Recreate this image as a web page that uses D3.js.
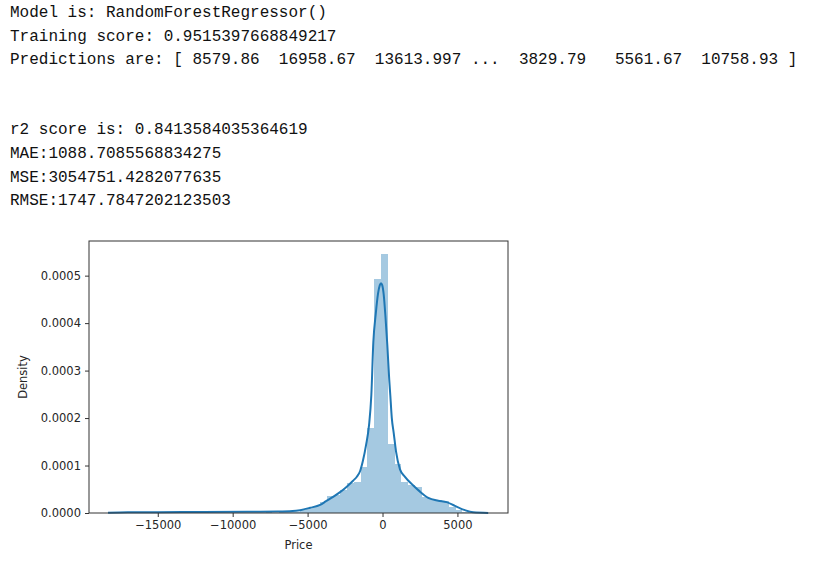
<!DOCTYPE html>
<html>
<head>
<meta charset="utf-8">
<script src="https://cdn.jsdelivr.net/npm/d3@7"></script>
<style>
  html, body { margin: 0; padding: 0; background: #fff; }
  svg { display: block; }
</style>
</head>
<body>
<svg id="chart" width="813" height="563"></svg>
<script>
// ---- Output text lines ----
const outputLines = [
  "Model is: RandomForestRegressor()",
  "Training score: 0.9515397668849217",
  "Predictions are: [ 8579.86  16958.67  13613.997 ...  3829.79   5561.67  10758.93 ]",
  "r2 score is: 0.8413584035364619",
  "MAE:1088.7085568834275",
  "MSE:3054751.4282077635",
  "RMSE:1747.7847202123503"
];

// ---- Histogram (density) ----
const binStart = -16861;
const binWidth = 453;
const binDensity = [
  0.000001, 0, 0, 0, 0, 0, 0, 0.000001, 0, 0,
  0, 0, 0.000001, 0, 0, 0.000001, 0, 0.000001, 0, 0.000001,
  0.000002, 0.000001, 0.000002, 0.000003, 0.000003, 0.000006, 0.00001, 0.000014, 0.000023, 0.000036,
  0.000037, 0.000048, 0.000064, 0.000066, 0.000097, 0.000179, 0.000493, 0.000545, 0.000146, 0.000104,
  0.000065, 0.00006, 0.000055, 0.000033, 0.00003, 0.000028, 0.000026, 0.000012, 0.000006, 0.000002
];

// ---- KDE curve ----
const kdeX = [-18320, -17000, -15000, -12000, -9000, -7000, -6000, -5500, -4833, -4167,
  -3767, -3300, -2833, -2367, -1967, -1700, -1500, -1300, -1100, -900,
  -747, -613, -450, -300, -180, -100, -20, 80, 200, 320,
  450, 520, 620, 750, 900, 1167, 1500, 2053, 2500, 3053,
  3720, 4280, 4833, 5500, 6053, 7053];
const kdeY = [0.0000005, 0.0000015, 0.0000018, 0.000002, 0.0000025, 0.000003, 0.000004, 0.000006, 0.000011, 0.000017,
  0.000025, 0.000034, 0.000044, 0.000056, 0.000068, 0.000077, 0.000088, 0.000111, 0.000143, 0.000185,
  0.000248, 0.00036, 0.00042, 0.000462, 0.00048, 0.000484, 0.00048, 0.00046, 0.000412, 0.000354,
  0.00028, 0.000248, 0.0002, 0.000168, 0.00013, 0.000092, 0.000076, 0.000058, 0.000045, 0.000032,
  0.000026, 0.000023, 0.000015, 0.000006, 0.0000015, 0.0000002];

// ---- Axis ticks ----
const xTicks = [-15000, -10000, -5000, 0, 5000];
const yTicks = [0, 0.0001, 0.0002, 0.0003, 0.0004, 0.0005];
const xLabel = "Price";
const yLabel = "Density";

const svg = d3.select("#chart");

// text output
const baselines = [17, 40.5, 63.5, 134, 157.5, 181.5, 205];
svg.selectAll("text.out").data(outputLines).join("text")
  .attr("class", "out")
  .attr("x", 10)
  .attr("y", (d, i) => baselines[i])
  .attr("font-family", "'Liberation Mono', 'DejaVu Sans Mono', monospace")
  .attr("font-size", 16)
  .attr("fill", "#111")
  .attr("xml:space", "preserve")
  .style("white-space", "pre")
  .text(d => d);

// chart
const L = 89, R = 508, T = 241, B = 513;
const x = d3.scaleLinear().domain([-19590, 8375]).range([L, R]);
const y = d3.scaleLinear().domain([0, 0.000573]).range([B, T]);

const g = svg.append("g");

const bins = binDensity.map((v, i) => ({x0: binStart + i * binWidth, x1: binStart + (i + 1) * binWidth, v}));
g.selectAll("rect.bar").data(bins).join("rect")
  .attr("class", "bar")
  .attr("x", d => x(d.x0))
  .attr("width", d => x(d.x1) - x(d.x0))
  .attr("y", d => y(d.v))
  .attr("height", d => y(0) - y(d.v))
  .attr("fill", "#1f77b4")
  .attr("fill-opacity", 0.4)
  .attr("shape-rendering", "crispEdges");

const kde = kdeX.map((v, i) => [v, kdeY[i]]);
g.append("path")
  .datum(kde)
  .attr("fill", "none")
  .attr("stroke", "#1f77b4")
  .attr("stroke-width", 2)
  .attr("stroke-linejoin", "round")
  .attr("d", d3.line().x(d => x(d[0])).y(d => y(d[1])).curve(d3.curveMonotoneX));

// frame
g.append("rect")
  .attr("x", L).attr("y", T).attr("width", R - L).attr("height", B - T)
  .attr("fill", "none").attr("stroke", "#333").attr("stroke-width", 1);

const fmtX = d => d < 0 ? "\u2212" + Math.abs(d) : String(d);
const xAxis = d3.axisBottom(x).tickValues(xTicks).tickFormat(fmtX).tickSize(4).tickPadding(4);
const yAxis = d3.axisLeft(y).tickValues(yTicks).tickFormat(d3.format(".4f")).tickSize(4).tickPadding(4);

const gx = svg.append("g").attr("transform", `translate(0,${B})`).call(xAxis);
const gy = svg.append("g").attr("transform", `translate(${L},0)`).call(yAxis);
[gx, gy].forEach(a => {
  a.select(".domain").remove();
  a.selectAll("line").attr("stroke", "#333");
  a.selectAll("text").attr("fill", "#262626")
    .attr("font-family", "'DejaVu Sans', sans-serif").attr("font-size", 11.5);
});

svg.append("text")
  .attr("x", (L + R) / 2).attr("y", 549)
  .attr("text-anchor", "middle")
  .attr("font-family", "'DejaVu Sans', sans-serif").attr("font-size", 11.5)
  .attr("fill", "#262626")
  .text(xLabel);

svg.append("text")
  .attr("transform", `translate(27,${(T + B) / 2}) rotate(-90)`)
  .attr("text-anchor", "middle")
  .attr("font-family", "'DejaVu Sans', sans-serif").attr("font-size", 11.5)
  .attr("fill", "#262626")
  .text(yLabel);
</script>
</body>
</html>
